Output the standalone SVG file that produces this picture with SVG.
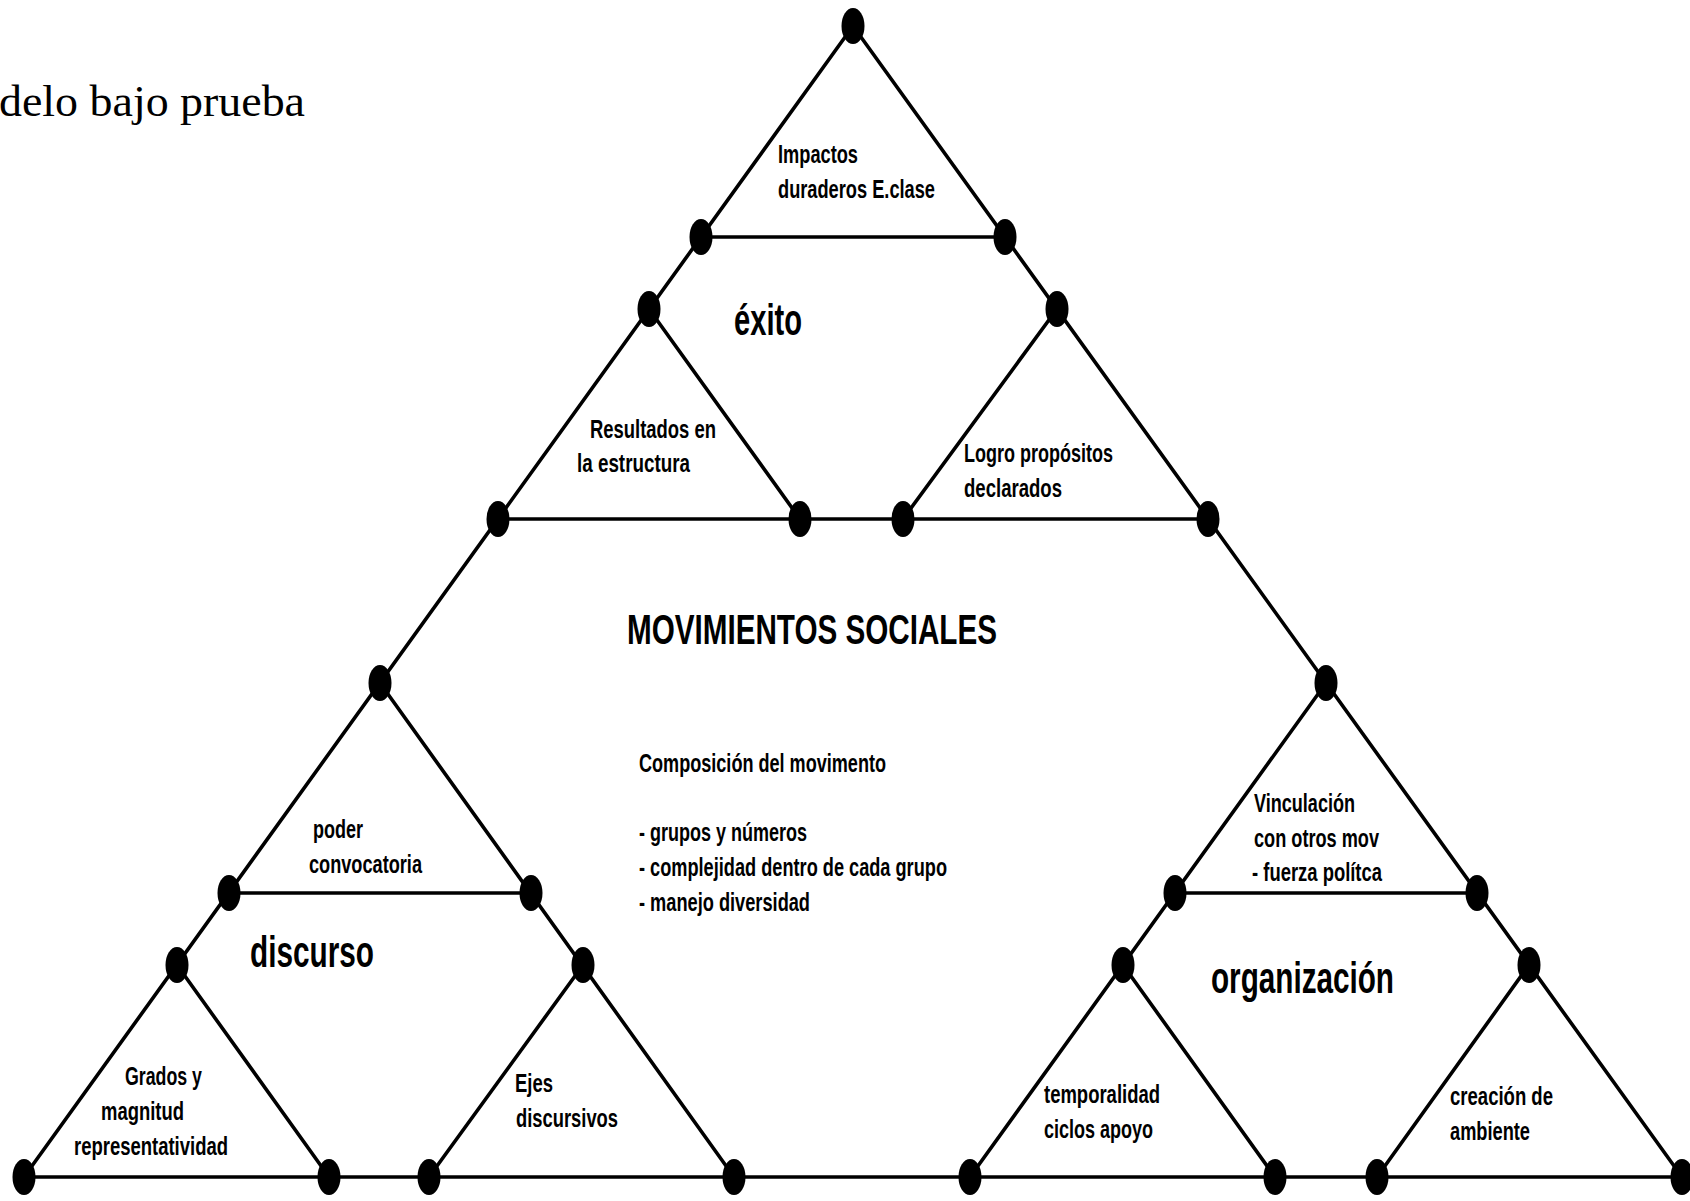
<svg xmlns="http://www.w3.org/2000/svg" width="1690" height="1201" viewBox="0 0 1690 1201">
<style>
.ln{stroke:#000;stroke-width:3.6;fill:none;stroke-linecap:round}
.dot{fill:#000}
.lb{font-family:"Liberation Sans Narrow","Liberation Sans",Arial,sans-serif;font-weight:bold;font-size:26px;fill:#000}
.cp{font-family:"Liberation Sans Narrow","Liberation Sans",Arial,sans-serif;font-weight:bold;font-size:25px;fill:#000}
.big{font-family:"Liberation Sans Narrow","Liberation Sans",Arial,sans-serif;font-weight:bold;font-size:44px;fill:#000}
.ttl{font-family:"Liberation Sans","Liberation Sans Narrow",Arial,sans-serif;font-weight:bold;font-size:42px;fill:#000}
.ser{font-family:"Liberation Serif","DejaVu Serif",serif;font-size:44px;fill:#000}
</style>
<defs>
<ellipse id="d" cx="0" cy="0" rx="11.5" ry="18"/>
</defs>
<rect width="1690" height="1201" fill="#fff"/>
<text class="ser" x="-1" y="116" textLength="306" lengthAdjust="spacingAndGlyphs">delo bajo prueba</text>

<g id="connectors">
<line class="ln" x1="853" y1="26" x2="24" y2="1177"/>
<line class="ln" x1="853" y1="26" x2="1682" y2="1177"/>
<line class="ln" x1="701" y1="237" x2="1005" y2="237"/>
<line class="ln" x1="498" y1="519" x2="1208" y2="519"/>
<line class="ln" x1="229" y1="893" x2="531" y2="893"/>
<line class="ln" x1="1175" y1="893" x2="1477" y2="893"/>
<line class="ln" x1="24" y1="1177" x2="1682" y2="1177"/>
<line class="ln" x1="649" y1="309" x2="800" y2="519"/>
<line class="ln" x1="1057" y1="309" x2="903" y2="519"/>
<line class="ln" x1="380" y1="683" x2="734" y2="1177"/>
<line class="ln" x1="583" y1="965" x2="429" y2="1177"/>
<line class="ln" x1="177" y1="965" x2="329" y2="1177"/>
<line class="ln" x1="1326" y1="683" x2="970" y2="1177"/>
<line class="ln" x1="1123" y1="965" x2="1275" y2="1177"/>
<line class="ln" x1="1529" y1="965" x2="1377" y2="1177"/>
</g>

<g id="nodes">
<g id="n-apex"><use href="#d" x="853" y="26"/></g>
<g id="n-l2a"><use href="#d" x="701" y="237"/></g>
<g id="n-l2b"><use href="#d" x="1005" y="237"/></g>
<g id="n-l3a"><use href="#d" x="649" y="309"/></g>
<g id="n-l3b"><use href="#d" x="1057" y="309"/></g>
<g id="n-l4a"><use href="#d" x="498" y="519"/></g>
<g id="n-l4b"><use href="#d" x="800" y="519"/></g>
<g id="n-l4c"><use href="#d" x="903" y="519"/></g>
<g id="n-l4d"><use href="#d" x="1208" y="519"/></g>
<g id="n-l5a"><use href="#d" x="380" y="683"/></g>
<g id="n-l5b"><use href="#d" x="1326" y="683"/></g>
<g id="n-l6a"><use href="#d" x="229" y="893"/></g>
<g id="n-l6b"><use href="#d" x="531" y="893"/></g>
<g id="n-l6c"><use href="#d" x="1175" y="893"/></g>
<g id="n-l6d"><use href="#d" x="1477" y="893"/></g>
<g id="n-l7a"><use href="#d" x="177" y="965"/></g>
<g id="n-l7b"><use href="#d" x="583" y="965"/></g>
<g id="n-l7c"><use href="#d" x="1123" y="965"/></g>
<g id="n-l7d"><use href="#d" x="1529" y="965"/></g>
<g id="n-b1"><use href="#d" x="24" y="1177"/></g>
<g id="n-b2"><use href="#d" x="329" y="1177"/></g>
<g id="n-b3"><use href="#d" x="429" y="1177"/></g>
<g id="n-b4"><use href="#d" x="734" y="1177"/></g>
<g id="n-b5"><use href="#d" x="970" y="1177"/></g>
<g id="n-b6"><use href="#d" x="1275" y="1177"/></g>
<g id="n-b7"><use href="#d" x="1377" y="1177"/></g>
<g id="n-b8"><use href="#d" x="1682" y="1177"/></g>
</g>

<g id="labels">
<g id="t-impactos">
<text class="lb" x="778" y="163" textLength="80" lengthAdjust="spacingAndGlyphs">Impactos</text>
<text class="lb" x="778" y="198" textLength="157" lengthAdjust="spacingAndGlyphs">duraderos E.clase</text>
</g>
<g id="t-exito"><text class="big" x="734" y="335" textLength="68" lengthAdjust="spacingAndGlyphs">éxito</text></g>
<g id="t-resultados">
<text class="lb" x="590" y="438" textLength="126" lengthAdjust="spacingAndGlyphs">Resultados en</text>
<text class="lb" x="577" y="472" textLength="113" lengthAdjust="spacingAndGlyphs">la estructura</text>
</g>
<g id="t-logro">
<text class="lb" x="964" y="462" textLength="149" lengthAdjust="spacingAndGlyphs">Logro propósitos</text>
<text class="lb" x="964" y="497" textLength="98" lengthAdjust="spacingAndGlyphs">declarados</text>
</g>
<g id="t-mov"><text class="ttl" x="627" y="644" textLength="370" lengthAdjust="spacingAndGlyphs">MOVIMIENTOS SOCIALES</text></g>
<g id="t-comp">
<text class="cp" x="639" y="772" textLength="247" lengthAdjust="spacingAndGlyphs">Composición del movimento</text>
<text class="cp" x="639" y="841" textLength="168" lengthAdjust="spacingAndGlyphs">- grupos y números</text>
<text class="cp" x="639" y="876" textLength="308" lengthAdjust="spacingAndGlyphs">- complejidad dentro de cada grupo</text>
<text class="cp" x="639" y="911" textLength="171" lengthAdjust="spacingAndGlyphs">- manejo diversidad</text>
</g>
<g id="t-poder">
<text class="lb" x="313" y="838" textLength="50" lengthAdjust="spacingAndGlyphs">poder</text>
<text class="lb" x="309" y="873" textLength="113" lengthAdjust="spacingAndGlyphs">convocatoria</text>
</g>
<g id="t-discurso"><text class="big" x="250" y="967" textLength="124" lengthAdjust="spacingAndGlyphs">discurso</text></g>
<g id="t-grados">
<text class="lb" x="125" y="1085" textLength="77" lengthAdjust="spacingAndGlyphs">Grados y</text>
<text class="lb" x="101" y="1120" textLength="83" lengthAdjust="spacingAndGlyphs">magnitud</text>
<text class="lb" x="74" y="1155" textLength="154" lengthAdjust="spacingAndGlyphs">representatividad</text>
</g>
<g id="t-ejes">
<text class="lb" x="515" y="1092" textLength="38" lengthAdjust="spacingAndGlyphs">Ejes</text>
<text class="lb" x="516" y="1127" textLength="102" lengthAdjust="spacingAndGlyphs">discursivos</text>
</g>
<g id="t-vinc">
<text class="lb" x="1254" y="812" textLength="101" lengthAdjust="spacingAndGlyphs">Vinculación</text>
<text class="lb" x="1254" y="847" textLength="125" lengthAdjust="spacingAndGlyphs">con otros mov</text>
<text class="lb" x="1252" y="881" textLength="130" lengthAdjust="spacingAndGlyphs">- fuerza polítca</text>
</g>
<g id="t-org"><text class="big" x="1211" y="993" textLength="183" lengthAdjust="spacingAndGlyphs">organización</text></g>
<g id="t-temp">
<text class="lb" x="1044" y="1103" textLength="116" lengthAdjust="spacingAndGlyphs">temporalidad</text>
<text class="lb" x="1044" y="1138" textLength="109" lengthAdjust="spacingAndGlyphs">ciclos apoyo</text>
</g>
<g id="t-crea">
<text class="lb" x="1450" y="1105" textLength="103" lengthAdjust="spacingAndGlyphs">creación de</text>
<text class="lb" x="1450" y="1140" textLength="80" lengthAdjust="spacingAndGlyphs">ambiente</text>
</g>
</g>
</svg>
